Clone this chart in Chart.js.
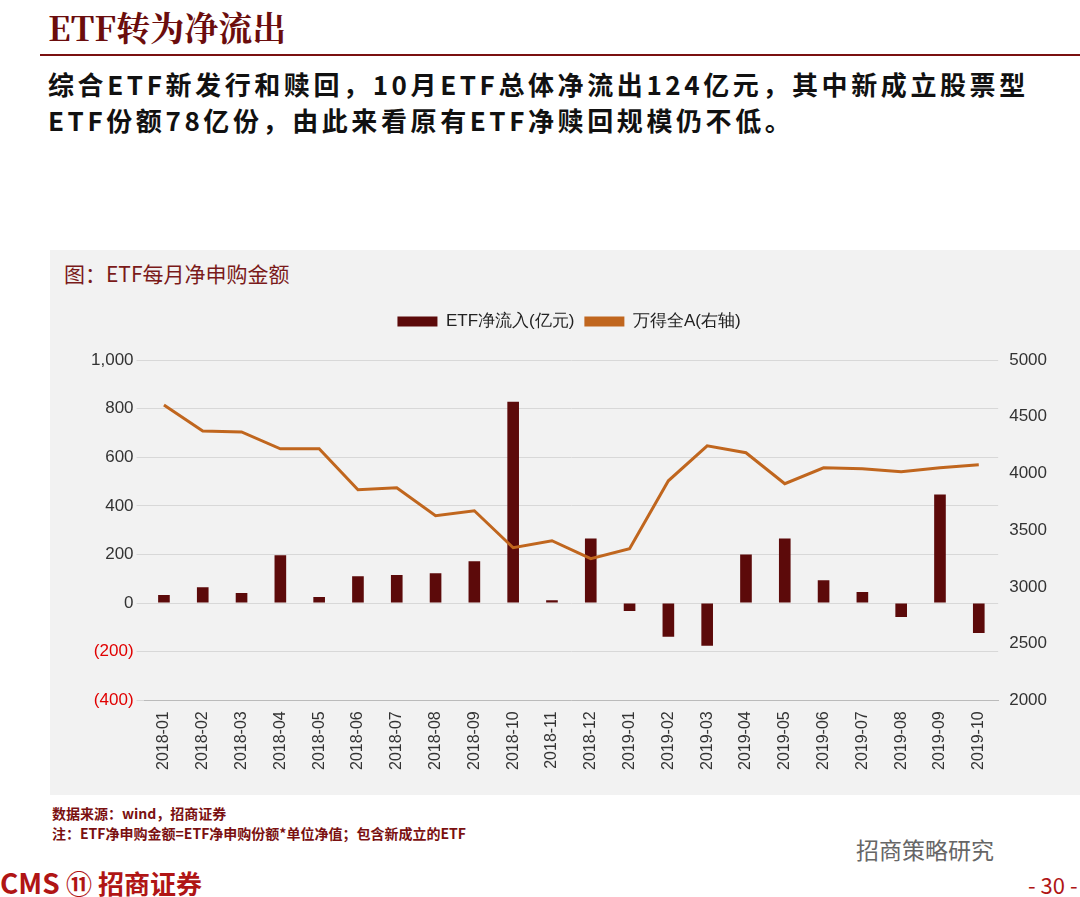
<!DOCTYPE html>
<html><head><meta charset="utf-8">
<script src="https://cdn.jsdelivr.net/npm/chart.js@4"></script>
<style>
body{margin:0;width:1080px;height:897px;background:#fff;position:relative;overflow:hidden;font-family:"Noto Sans CJK SC","Noto Sans",sans-serif}
.t{position:absolute}
</style></head><body>
<div class="t" style="left:48px;top:2px;font-family:'Noto Serif CJK SC','Noto Sans CJK SC',serif;font-size:34px;color:#6b0d0d;font-weight:bold">ETF转为净流出</div>
<div class="t" style="left:40px;top:54px;width:1040px;height:2px;background:#7a1010"></div>
<div class="t" style="left:48px;top:66px;font-size:26px;font-weight:bold;line-height:36px;color:#111;letter-spacing:3.6px;white-space:nowrap">综合ETF新发行和赎回，10月ETF总体净流出124亿元，其中新成立股票型<br>ETF份额78亿份，由此来看原有ETF净赎回规模仍不低。</div>
<div class="t" style="left:50px;top:250px;width:1030px;height:545px;background:#f2f2f2"></div>
<div class="t" style="left:64px;top:258px;font-size:21px;color:#7a1a1a">图：ETF每月净申购金额</div>
<div class="t" style="left:48px;top:303px;width:1032px;height:490px"><canvas id="c"></canvas></div>
<div class="t" style="left:52px;top:803px;font-size:14px;font-weight:bold;color:#7a1010;line-height:20px">数据来源：wind，招商证券<br>注：ETF净申购金额=ETF净申购份额*单位净值；包含新成立的ETF</div>
<div class="t" style="left:856px;top:832px;font-size:23px;color:#666">招商策略研究</div>
<div class="t" style="left:0px;top:862px;font-size:28px;font-weight:bold;color:#b01515">CMS <span style="font-size:26px">⑪ 招商证券</span></div>
<div class="t" style="left:1028px;top:868px;font-size:22px;color:#b01515">- 30 -</div>
<script>
const categories=["2018-01","2018-02","2018-03","2018-04","2018-05","2018-06","2018-07","2018-08","2018-09","2018-10","2018-11","2018-12","2019-01","2019-02","2019-03","2019-04","2019-05","2019-06","2019-07","2019-08","2019-09","2019-10"];
const etfFlow=[33,65,41,197,25,110,115,123,172,828,12,266,-33,-139,-176,200,266,94,45,-57,447,-123];
const windA=[4604,4375,4366,4217,4217,3856,3873,3627,3671,3345,3407,3248,3336,3935,4243,4182,3909,4050,4041,4015,4050,4076];
const legendPad={id:'lp',beforeInit(c){const f=c.legend.fit;c.legend.fit=function(){f.call(this);this.height+=20;}}};
new Chart(document.getElementById('c'),{
data:{labels:categories,datasets:[
{type:'bar',label:'ETF净流入(亿元)',data:etfFlow,backgroundColor:'#5c0a0a',yAxisID:'y',barPercentage:0.3,categoryPercentage:1,order:2},
{type:'line',label:'万得全A(右轴)',data:windA,borderColor:'#c0661e',backgroundColor:'#c0661e',borderWidth:3,pointRadius:0,tension:0,yAxisID:'y1',order:1}]},
plugins:[legendPad],
options:{responsive:true,maintainAspectRatio:false,animation:false,
layout:{padding:{left:40,right:30,top:0,bottom:20}},
plugins:{legend:{labels:{font:{size:17},color:'#222',boxWidth:40,boxHeight:10,generateLabels(ch){return ch.data.datasets.map((d,i)=>({text:d.label,fillStyle:d.backgroundColor,strokeStyle:d.backgroundColor,lineWidth:0,datasetIndex:i,fontColor:'#222'}))}}},tooltip:{enabled:false}},
scales:{
x:{grid:{display:false},border:{color:'#bbb'},ticks:{color:'#333',font:{size:16},minRotation:90,maxRotation:90}},
y:{min:-400,max:1000,ticks:{stepSize:200,font:{size:17},color:c=>c.tick.value<0?'#e00000':'#333',callback:v=>v<0?'('+Math.abs(v)+')':v.toLocaleString('en-US')},grid:{color:'#d8d8d8'},border:{display:false}},
y1:{position:'right',min:2000,max:5000,ticks:{stepSize:500,font:{size:17},color:'#333',callback:v=>String(v)},grid:{display:false},border:{display:false}}
}}});
</script>
</body></html>
